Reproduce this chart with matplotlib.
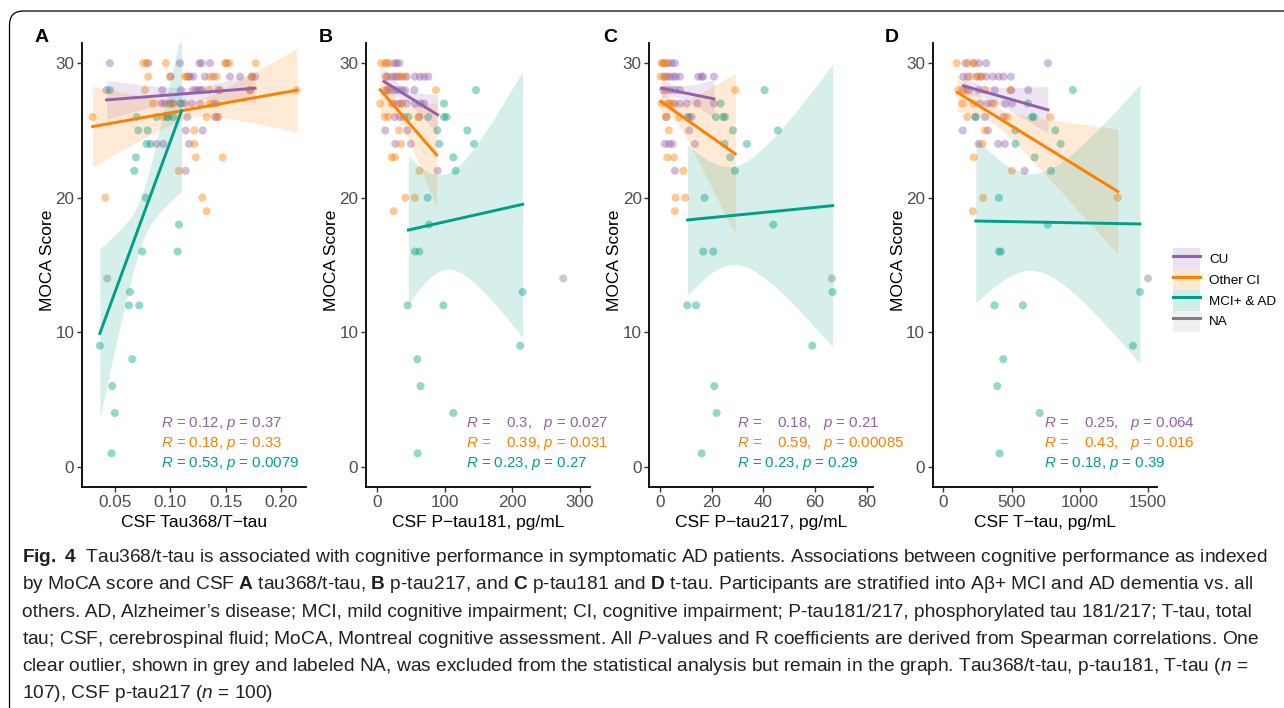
import numpy as np
import matplotlib
matplotlib.use("Agg")
import matplotlib.pyplot as plt
from matplotlib.patches import Patch, FancyBboxPatch
from matplotlib.lines import Line2D
from matplotlib.transforms import IdentityTransform

plt.rcParams['font.family'] = ['Liberation Sans', 'DejaVu Sans']
plt.rcParams['mathtext.fontset'] = 'custom'
plt.rcParams['mathtext.rm'] = 'Liberation Sans'
plt.rcParams['mathtext.it'] = 'Liberation Sans:italic'
plt.rcParams['mathtext.bf'] = 'Liberation Sans:bold'

groups = ['CU', 'Other CI', 'MCI+ & AD', 'NA']
colors = ['#9360AA', '#FF7F00', '#00A087', '#808080']

# ---- panel A: Tau368/T-tau ----
a_cu_x = [0.0455, 0.0801, 0.1087, 0.1262, 0.1283, 0.1358, 0.1509,
          0.1003, 0.1163, 0.1178, 0.1208, 0.1313, 0.1389, 0.1539, 0.1630, 0.1735, 0.1765,
          0.0425, 0.0928, 0.1096, 0.1208, 0.1238, 0.1268, 0.1283, 0.1434, 0.1720,
          0.0922, 0.0952, 0.0997, 0.1027, 0.1087, 0.1133, 0.1193, 0.1268, 0.1389, 0.1419,
          0.0967, 0.1154, 0.1404, 0.1434, 0.1139, 0.1292, 0.0877, 0.0937, 0.1169, 0.1139]
a_cu_y = [30, 30, 30, 30, 30, 30, 30,
          29, 29, 29, 29, 29, 29, 29, 29, 29, 29,
          28, 28, 28, 28, 28, 28, 28, 28, 28,
          27, 27, 27, 27, 27, 27, 27, 27, 27, 27,
          26, 26, 26, 26, 25, 25, 24, 24, 24, 22]
a_oci_x = [0.0756, 0.0786, 0.0961, 0.1494, 0.1533, 0.1771,
           0.0801, 0.0997, 0.1133, 0.1148, 0.1358, 0.1419, 0.1735,
           0.0771, 0.1352, 0.1449, 0.1720, 0.2142,
           0.0846, 0.1012, 0.1358, 0.0298, 0.0937, 0.1328, 0.1419,
           0.1217, 0.1217, 0.1229, 0.1473, 0.1078, 0.0413, 0.1289, 0.1328]
a_oci_y = [30, 30, 30, 30, 30, 30,
           29, 29, 29, 29, 29, 29, 29,
           28, 28, 28, 28, 28,
           27, 27, 27, 26, 26, 26, 26,
           25, 24, 23, 23, 22, 20, 20, 19]
a_mci_x = [0.0455, 0.1102, 0.0696, 0.0877, 0.0982, 0.1027, 0.0711, 0.0795, 0.0786, 0.0822,
           0.0690, 0.0675, 0.0777, 0.1078, 0.0747, 0.1066, 0.0636, 0.0627, 0.0720,
           0.0364, 0.0657, 0.0476, 0.0500, 0.0470]
a_mci_y = [28, 27, 26, 26, 26, 26, 25, 25, 24, 24,
           23, 22, 20, 18, 16, 16, 13, 12, 12,
           9, 8, 6, 4, 1]
a_na_x = [0.0431]
a_na_y = [14]

# ---- panel B: P-tau181 ----
b_cu_x = [13.8, 25.2, 28.6, 32.6,
          12.8, 21.2, 26.1, 29.6, 36.0, 43.4, 55.7, 63.1, 69.1, 75.5,
          12.8, 17.8, 25.2, 29.6, 36.0, 40.9, 54.8,
          23.7, 31.1, 36.0, 43.4, 55.7, 64.1, 69.1,
          26.1, 33.5, 39.5, 62.2, 11.8, 44.4, 26.6, 49.8, 89.3]
b_cu_y = [30, 30, 30, 30,
          29, 29, 29, 29, 29, 29, 29, 29, 29, 29,
          28, 28, 28, 28, 28, 28, 28,
          27, 27, 27, 27, 27, 27, 27,
          26, 26, 26, 26, 25, 25, 24, 24, 22]
b_oci_x = [5.4, 11.3, 17.8, 15.3, 32.6, 40.9, 15.3, 86.8, 4.4, 21.2, 36.0,
           11.3, 16.3, 60.7, 32.1, 35.0, 21.2, 26.1, 62.2, 41.4, 55.7, 24.2]
b_oci_y = [30, 30, 30, 29, 29, 29, 28, 28, 27, 27, 27,
           26, 26, 26, 25, 24, 23, 23, 22, 20, 20, 19]
b_mci_x = [146.0, 98.7, 45.9, 75.5, 98.7, 102.6, 88.8, 133.2, 91.8, 143.1, 112.5, 115.9,
           74.5, 76.5, 55.7, 62.2, 215.1, 44.9, 97.7, 211.6, 59.2, 64.1, 112.5, 59.7]
b_mci_y = [28, 27, 26, 26, 26, 26, 25, 25, 24, 24, 23, 22,
           20, 18, 16, 16, 13, 12, 12, 9, 8, 6, 4, 1]
b_na_x = [275.3]
b_na_y = [14]

# ---- panel C: P-tau217 ----
c_cu_x = [1.29, 3.23, 4.52, 5.81,
          1.55, 2.84, 3.87, 5.16, 6.19, 7.74, 14.84, 16.13, 16.77, 20.90,
          1.29, 3.87, 5.81, 7.74,
          3.23, 5.81, 7.74, 10.32, 14.45, 20.90,
          2.58, 11.35, 12.26, 11.35, 1.94, 3.61, 4.90, 13.55, 5.81]
c_cu_y = [30, 30, 30, 30,
          29, 29, 29, 29, 29, 29, 29, 29, 29, 29,
          28, 28, 28, 28,
          27, 27, 27, 27, 27, 27,
          26, 26, 26, 25, 24, 24, 24, 24, 22]
c_oci_x = [0.65, 1.55, 2.58, 0.26, 1.94, 2.58, 29.16, 0.65, 3.87, 4.90,
           2.32, 7.48, 3.48, 2.84, 5.42, 9.16, 6.06, 9.81, 5.81]
c_oci_y = [30, 30, 30, 29, 29, 28, 28, 27, 27, 27,
           26, 26, 25, 23, 23, 22, 20, 20, 19]
c_mci_x = [40.52, 23.48, 10.71, 21.68, 24.52, 25.16, 28.26, 45.68, 25.03, 33.68, 27.23, 29.03,
           17.29, 43.87, 16.77, 20.65, 66.84, 10.58, 13.94, 58.97, 21.03, 21.94, 16.13]
c_mci_y = [28, 27, 26, 26, 26, 26, 25, 25, 24, 24, 23, 22,
           20, 18, 16, 16, 13, 12, 12, 9, 6, 4, 1]
c_na_x = [66.58]
c_na_y = [14]

# ---- panel D: T-tau ----
d_cu_x = [164, 221, 260, 314, 767,
          147, 179, 245, 275, 314, 363, 404, 441, 495,
          142, 189, 260, 377, 498, 623,
          270, 324, 355, 453, 502,
          233, 306, 441, 142, 326, 260, 402, 451, 596]
d_cu_y = [30, 30, 30, 30, 30,
          29, 29, 29, 29, 29, 29, 29, 29, 29,
          28, 28, 28, 28, 28, 28,
          27, 27, 27, 27, 27,
          26, 26, 26, 25, 25, 24, 24, 24, 22]
d_oci_x = [98, 176, 225, 201, 257, 284, 110, 167, 306, 490, 140, 221, 375,
           176, 466, 784, 306, 287, 223, 502, 292, 1279, 216]
d_oci_y = [30, 30, 30, 29, 29, 29, 28, 28, 28, 28, 27, 27, 27,
           26, 26, 26, 25, 24, 23, 22, 20, 20, 19]
d_mci_x = [949, 620, 238, 650, 662, 527, 821, 529, 860, 669, 789, 407,
           765, 407, 422, 1441, 375, 583, 1390, 439, 395, 706, 412]
d_mci_y = [28, 27, 26, 26, 26, 25, 25, 24, 24, 23, 22, 20,
           18, 16, 16, 13, 12, 12, 9, 8, 6, 4, 1]
d_na_x = [1500]
d_na_y = [14]

# fitted lines: x0, x1, y0, y1, half-width at x0, min half-width, half-width at x1
a_fits = [[0.0425, 0.1765, 27.27, 28.14, 1.44, 0.45, 1.1],
          [0.0298, 0.2142, 25.29, 27.99, 3.0, 0.6, 3.1],
          [0.0364, 0.1102, 9.92, 26.46, 6.3, 1.8, 6.0]]
b_fits = [[9.9, 89.3, 28.64, 26.16, 1.0, 0.45, 1.5],
          [4.4, 87.8, 28.02, 23.18, 1.9, 0.7, 3.9],
          [45.9, 215.1, 17.6, 19.51, 5.5, 3.55, 9.9]]
c_fits = [[0.65, 20.9, 28.14, 27.35, 0.7, 0.45, 1.4],
          [0.4, 29.16, 27.15, 23.26, 1.35, 0.6, 6.0],
          [10.71, 66.84, 18.35, 19.41, 5.6, 3.65, 10.5]]
d_fits = [[147, 767, 28.32, 26.53, 0.65, 0.45, 1.75],
          [103, 1279, 27.82, 20.46, 1.4, 0.65, 4.65],
          [238, 1441, 18.27, 18.05, 6.1, 3.6, 10.35]]

# correlation labels
a_r = ['0.12,', '0.18,', '0.53,']
a_p = ['0.37', '0.33', '0.0079']
b_r = ['   0.3,  ', '   0.39,', '0.23,']
b_p = ['0.027', '0.031', '0.27']
c_r = ['   0.18,  ', '   0.59,  ', '0.23,']
c_p = ['0.21', '0.00085', '0.29']
d_r = ['   0.25,  ', '   0.43,  ', '0.18,']
d_p = ['0.064', '0.016', '0.39']

xlabels = ['CSF Tau368/T\u2212tau', 'CSF P\u2212tau181, pg/mL',
           'CSF P\u2212tau217, pg/mL', 'CSF T\u2212tau, pg/mL']
letters = ['A', 'B', 'C', 'D']


def ci_band(fit, n=100):
    x0, x1, y0, y1, h0, hmin, h1 = fit
    r0 = np.sqrt(max(h0 ** 2 - hmin ** 2, 0))
    r1 = np.sqrt(max(h1 ** 2 - hmin ** 2, 0))
    xc = x0 + (x1 - x0) * r0 / (r0 + r1)
    k = (r0 / (xc - x0)) ** 2
    xs = np.linspace(x0, x1, n)
    ys = y0 + (y1 - y0) * (xs - x0) / (x1 - x0)
    hw = np.sqrt(hmin ** 2 + k * (xs - xc) ** 2)
    return xs, ys, hw


W, H = 1284, 708
fig = plt.figure(figsize=(W / 100, H / 100), dpi=100)

panels = [
    dict(pts=[(a_cu_x, a_cu_y), (a_oci_x, a_oci_y), (a_mci_x, a_mci_y), (a_na_x, a_na_y)],
         fits=a_fits, r=a_r, p=a_p, left=82, xlim=(0.0203, 0.2225),
         xticks=[0.05, 0.10, 0.15, 0.20], xtl=['0.05', '0.10', '0.15', '0.20'], tx=0.0915, lx=35),
    dict(pts=[(b_cu_x, b_cu_y), (b_oci_x, b_oci_y), (b_mci_x, b_mci_y), (b_na_x, b_na_y)],
         fits=b_fits, r=b_r, p=b_p, left=366, xlim=(-16.7, 314.8),
         xticks=[0, 100, 200, 300], xtl=['0', '100', '200', '300'], tx=132, lx=319),
    dict(pts=[(c_cu_x, c_cu_y), (c_oci_x, c_oci_y), (c_mci_x, c_mci_y), (c_na_x, c_na_y)],
         fits=c_fits, r=c_r, p=c_p, left=649.3, xlim=(-4.1, 82.6),
         xticks=[0, 20, 40, 60, 80], xtl=['0', '20', '40', '60', '80'], tx=29.7, lx=603),
    dict(pts=[(d_cu_x, d_cu_y), (d_oci_x, d_oci_y), (d_mci_x, d_mci_y), (d_na_x, d_na_y)],
         fits=d_fits, r=d_r, p=d_p, left=932.7, xlim=(-78, 1564),
         xticks=[0, 500, 1000, 1500], xtl=['0', '500', '1000', '1500'], tx=740, lx=885),
]

for i, pan in enumerate(panels):
    ax = fig.add_axes([pan['left'] / W, 1 - 487 / H, 224 / W, 444 / H])
    for (xs, ys), c in zip(pan['pts'], colors):
        ax.scatter(xs, ys, s=34, color=c, alpha=0.42, edgecolors='none', zorder=2)
    for fit, c in zip(pan['fits'], colors):
        xs, ys, hw = ci_band(fit)
        ax.fill_between(xs, ys - hw, ys + hw, color=c, alpha=0.16, lw=0, zorder=3)
        ax.plot(xs, ys, color=c, lw=2.1, zorder=4)
    for j in range(3):
        txt = r'$\mathit{R}$ = ' + pan['r'][j] + ' ' + r'$\mathit{p}$ = ' + pan['p'][j]
        ax.text(pan['tx'], [3.25, 1.76, 0.27][j], txt, color=colors[j], fontsize=10.8,
                va='center', ha='left', zorder=5)
    ax.set_xlim(pan['xlim'])
    ax.set_ylim(-1.5, 31.5)
    ax.set_xticks(pan['xticks'])
    ax.set_xticklabels(pan['xtl'])
    ax.set_yticks([0, 10, 20, 30])
    ax.spines['top'].set_visible(False)
    ax.spines['right'].set_visible(False)
    ax.spines['left'].set_linewidth(1.3)
    ax.spines['bottom'].set_linewidth(1.3)
    ax.tick_params(labelsize=12.3, labelcolor='#4D4D4D', color='#333333', length=3.5, width=1, pad=2)
    ax.set_ylabel('MOCA Score', fontsize=12.5)
    ax.yaxis.set_label_coords(-0.12, 0.51)
    ax.set_xlabel(xlabels[i], fontsize=12.5)
    ax.xaxis.set_label_coords(0.5, -0.062)
    fig.text(pan['lx'] / W, 1 - 42 / H, letters[i], fontsize=14, fontweight='bold', va='baseline')

# legend
fills = ['#9360AA', '#FF7F00', '#00A087', '#B0B0B0']
handles = [(Patch(facecolor=f, alpha=0.18, edgecolor='none'), Line2D([], [], color=c, lw=2.2))
           for f, c in zip(fills, colors)]
fig.legend(handles, groups, loc='center left', bbox_to_anchor=(1173 / W, 1 - 290 / H),
           frameon=False, fontsize=9.7, handlelength=2.0, handleheight=2.0,
           labelspacing=0.0, handletextpad=0.7, borderpad=0, borderaxespad=0)

# caption
caption = [
    r'$\mathbf{Fig.\ 4}$  Tau368/t-tau is associated with cognitive performance in symptomatic AD patients. Associations between cognitive performance as indexed',
    'by MoCA score and CSF $\\mathbf{A}$ tau368/t-tau, $\\mathbf{B}$ p-tau217, and $\\mathbf{C}$ p-tau181 and $\\mathbf{D}$ t-tau. Participants are stratified into A\u03b2+ MCI and AD dementia vs. all',
    'others. AD, Alzheimer\u2019s disease; MCI, mild cognitive impairment; CI, cognitive impairment; P-tau181/217, phosphorylated tau 181/217; T-tau, total',
    r'tau; CSF, cerebrospinal fluid; MoCA, Montreal cognitive assessment. All $\mathit{P}$-values and R coefficients are derived from Spearman correlations. One',
    r'clear outlier, shown in grey and labeled NA, was excluded from the statistical analysis but remain in the graph. Tau368/t-tau, p-tau181, T-tau ($\mathit{n}$ =',
    r'107), CSF p-tau217 ($\mathit{n}$ = 100)',
]
for k, line in enumerate(caption):
    fig.text(22 / W, 1 - (562 + 27.3 * k) / H, line, fontsize=13.8, color='#231F20',
             va='baseline', ha='left')

# outer rounded frame
frame = FancyBboxPatch((9.5, -30), 1400, H - 11 + 30, boxstyle='round,pad=0,rounding_size=14',
                       transform=IdentityTransform(), fill=False, edgecolor='black', lw=0.9)
fig.add_artist(frame)

fig.savefig('out.png', dpi=100)
